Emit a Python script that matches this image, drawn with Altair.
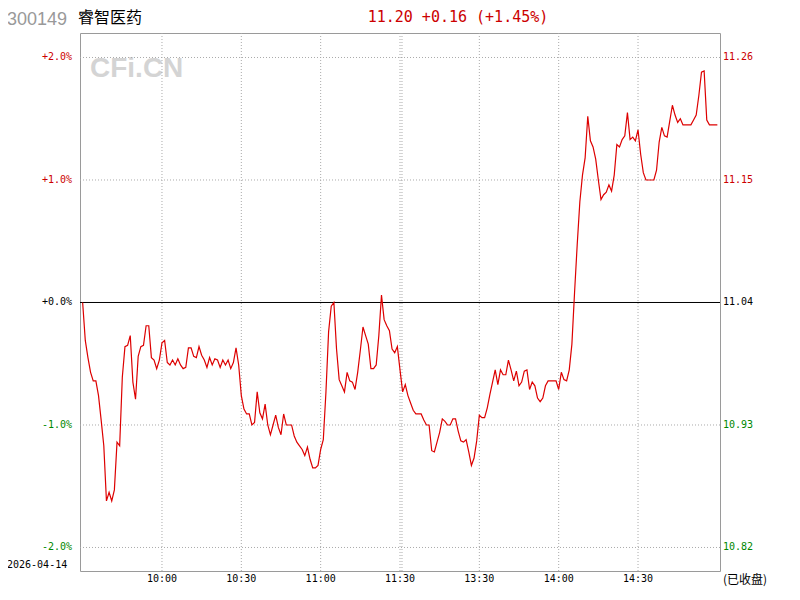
import altair as alt
import pandas as pd

# ---- data (percent change vs. previous close 11.04) ----
prev_close = 11.04
morning_pct = [
    0.00, -0.31, -0.45, -0.57, -0.64, -0.64, -0.76, -0.96, -1.17, -1.62,
    -1.55, -1.62, -1.53, -1.14, -1.17, -0.61, -0.36, -0.35, -0.27, -0.65,
    -0.79, -0.44, -0.36, -0.35, -0.19, -0.19, -0.45, -0.47, -0.54, -0.47,
    -0.33, -0.31, -0.49, -0.51, -0.47, -0.51, -0.46, -0.51, -0.54, -0.53,
    -0.37, -0.37, -0.44, -0.45, -0.36, -0.43, -0.47, -0.53, -0.45, -0.51,
    -0.46, -0.47, -0.53, -0.47, -0.51, -0.47, -0.54, -0.49, -0.37, -0.51,
    -0.76, -0.87, -0.91, -0.91, -1.00, -0.98, -0.73, -0.90, -0.95, -0.83,
    -1.00, -1.08, -1.00, -0.92, -1.02, -1.08, -0.91, -1.00, -1.00, -1.00,
    -1.09, -1.14, -1.17, -1.20, -1.25, -1.18, -1.28, -1.35, -1.35, -1.33,
    -1.20, -1.12, -0.73, -0.24, -0.03, 0.00, -0.38, -0.63, -0.68, -0.73,
    -0.57, -0.64, -0.65, -0.71, -0.57, -0.39, -0.20, -0.27, -0.34, -0.54,
    -0.54, -0.51, -0.27, 0.06, -0.14, -0.19, -0.23, -0.38, -0.41, -0.36,
    -0.55,
]
afternoon_pct = [
    -0.73, -0.67, -0.76, -0.82, -0.88, -0.91, -0.91, -0.91, -0.96, -1.00,
    -1.00, -1.21, -1.22, -1.14, -1.06, -0.95, -0.97, -1.00, -1.00, -0.95,
    -0.95, -1.05, -1.13, -1.14, -1.12, -1.22, -1.33, -1.27, -1.13, -0.92,
    -0.94, -0.94, -0.86, -0.75, -0.65, -0.55, -0.67, -0.55, -0.59, -0.59,
    -0.47, -0.55, -0.64, -0.56, -0.68, -0.65, -0.56, -0.55, -0.71, -0.65,
    -0.68, -0.78, -0.81, -0.78, -0.68, -0.64, -0.64, -0.64, -0.64, -0.71,
    -0.57, -0.63, -0.64, -0.55, -0.34, 0.08, 0.47, 0.82, 1.04, 1.18,
    1.52, 1.32, 1.27, 1.17, 1.00, 0.84, 0.88, 0.90, 0.96, 0.91,
    1.04, 1.29, 1.27, 1.33, 1.36, 1.55, 1.33, 1.35, 1.32, 1.41,
    1.21, 1.06, 1.00, 1.00, 1.00, 1.00, 1.08, 1.31, 1.43, 1.36,
    1.35, 1.48, 1.61, 1.53, 1.47, 1.50, 1.45, 1.45, 1.45, 1.45,
    1.49, 1.53, 1.69, 1.88, 1.89, 1.49, 1.45, 1.45, 1.45, 1.45,
]

time_ticks = [30, 60, 90, 120, 150, 180, 210]
time_labels = ["10:00", "10:30", "11:00", "11:30", "13:30", "14:00", "14:30"]
grid_minutes = [30, 60, 90, 120, 120.75, 150, 180, 210]
pct_ticks = [2, 1, 0, -1, -2]
pct_labels = ["+2.0%", "+1.0%", "+0.0%", "-1.0%", "-2.0%"]
price_labels = ["11.26", "11.15", "11.04", "10.93", "10.82"]
label_colors = ["#cc0000", "#cc0000", "#000000", "#008800", "#008800"]

RED = "#dd0000"
MONO = "DejaVu Sans Mono"

pct_all = morning_pct + afternoon_pct
line_df = pd.DataFrame({"minute": list(range(len(pct_all))), "pct": pct_all})

W, H = 640, 538
xs = alt.Scale(domain=[-1, 241], nice=False, zero=False)
ys = alt.Scale(domain=[-2.192, 2.200], nice=False, zero=False)

# gridlines
hgrid = alt.Chart(pd.DataFrame({"pct": [p for p in pct_ticks if p != 0]})).mark_rule(
    color="#aaaaaa", strokeWidth=1, strokeDash=[1, 2]
).encode(y=alt.Y("pct:Q", scale=ys, axis=None))

vgrid = alt.Chart(pd.DataFrame({"minute": grid_minutes})).mark_rule(
    color="#aaaaaa", strokeWidth=1, strokeDash=[1, 2]
).encode(x=alt.X("minute:Q", scale=xs, axis=None))

zero = alt.Chart(pd.DataFrame({"pct": [0]})).mark_rule(
    color="#000000", strokeWidth=1
).encode(y=alt.Y("pct:Q", scale=ys, axis=None))

watermark = alt.Chart(pd.DataFrame({"t": ["CFi.CN"]})).mark_text(
    align="left", baseline="alphabetic", font="Liberation Sans", fontWeight="bold",
    fontSize=28, color="#d4d4d4"
).encode(x=alt.value(10), y=alt.value(44), text="t:N")

line = alt.Chart(line_df).mark_line(color=RED, strokeWidth=1.2).encode(
    x=alt.X("minute:Q", scale=xs, axis=None),
    y=alt.Y("pct:Q", scale=ys, axis=None),
)

lab_df = pd.DataFrame({"pct": pct_ticks, "left": pct_labels, "right": price_labels,
                       "color": label_colors})
left_labels = alt.Chart(lab_df).mark_text(
    align="right", baseline="middle", font=MONO, fontSize=10
).encode(y=alt.Y("pct:Q", scale=ys, axis=None), x=alt.value(-8), text="left:N",
         color=alt.Color("color:N", scale=None))
right_labels = alt.Chart(lab_df).mark_text(
    align="left", baseline="middle", font=MONO, fontSize=10
).encode(y=alt.Y("pct:Q", scale=ys, axis=None), x=alt.value(643), text="right:N",
         color=alt.Color("color:N", scale=None))

time_df = pd.DataFrame({"minute": time_ticks, "label": time_labels})
time_text = alt.Chart(time_df).mark_text(
    align="center", baseline="middle", font=MONO, fontSize=10, color="#000000"
).encode(x=alt.X("minute:Q", scale=xs, axis=None), y=alt.value(H + 8), text="label:N")

def text_layer(txt, x, y, **kw):
    return alt.Chart(pd.DataFrame({"t": [txt]})).mark_text(**kw).encode(
        x=alt.value(x), y=alt.value(y), text="t:N")

code_t = text_layer("300149", -73, -8, align="left", baseline="alphabetic",
                    font="Liberation Sans", fontSize=18, color="#999999")
name_t = text_layer("睿智医药", -2, -10, align="left", baseline="alphabetic",
                    font="Noto Sans CJK SC", fontSize=16, color="#000000")
quote_t = text_layer("11.20 +0.16 (+1.45%)", 378, -11, align="center", baseline="alphabetic",
                     font=MONO, fontSize=15, color="#cc0000")
date_t = text_layer("2026-04-14", -73, 532, align="left", baseline="middle",
                    font=MONO, fontSize=10, color="#000000")
closed_t = text_layer("(已收盘)", 643, 547, align="left", baseline="middle",
                      font="Noto Sans CJK SC", fontSize=12, color="#000000")

chart = alt.layer(
    watermark, hgrid, vgrid, zero, line, left_labels, right_labels, time_text,
    code_t, name_t, quote_t, date_t, closed_t,
).properties(
    width=W, height=H,
    autosize=alt.AutoSizeParams(type="none"),
    padding={"left": 72, "top": 25, "right": 72, "bottom": 21},
    background="#ffffff",
).configure_view(stroke="#9a9a9a", strokeWidth=1)

chart.save("out.html", embed_options={"renderer": "svg", "actions": False})
